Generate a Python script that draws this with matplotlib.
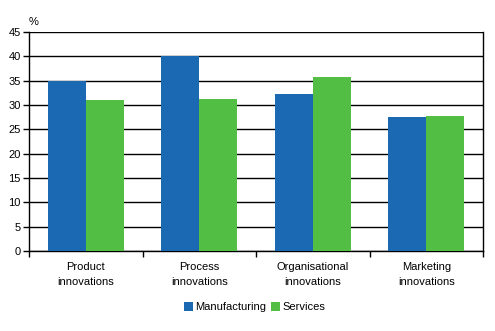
import matplotlib.pyplot as plt
import numpy as np

categories = ['Product\ninnovations', 'Process\ninnovations',
              'Organisational\ninnovations', 'Marketing\ninnovations']
manufacturing = [35.0, 40.0, 32.3, 27.5]
services = [31.0, 31.2, 35.7, 27.7]

plt.rcParams['font.family'] = ['Liberation Sans', 'DejaVu Sans']
plt.rcParams['font.size'] = 8

fig = plt.figure(figsize=(4.95, 3.31), dpi=100)
ax = fig.add_axes([29/495, 80/331, 454/495, 219/331])

x = np.arange(len(categories))
w = 0.335
ax.bar(x - w/2, manufacturing, w, color='#1a69b2', label='Manufacturing', zorder=3)
ax.bar(x + w/2, services, w, color='#52bf44', label='Services', zorder=3)

ax.set_xlim(-0.5, 3.5)
ax.set_ylim(0, 45)
ax.set_yticks(range(0, 46, 5))
ax.yaxis.grid(True, color='black', linewidth=1.0, zorder=1)

# category labels sit between boundary ticks
ax.set_xticks(np.arange(-0.5, 4.0, 1.0))
ax.set_xticklabels([])
ax.set_xticks(x, minor=True)
ax.set_xticklabels(categories, minor=True, linespacing=1.55)
ax.tick_params(axis='x', which='minor', length=0, pad=8)
ax.tick_params(axis='x', which='major', length=4, width=1, direction='out')
ax.tick_params(axis='y', length=4, width=1, pad=2)

for s in ['left', 'bottom', 'right']:
    ax.spines[s].set_linewidth(1.0)
ax.spines['top'].set_visible(False)

ax.text(0.0, 1.025, '%', transform=ax.transAxes, ha='left', va='bottom')

ax.legend(loc='upper center', bbox_to_anchor=(0.497, -0.188), ncol=2, frameon=False,
          handlelength=0.8, handleheight=0.8, handletextpad=0.2, columnspacing=0.5)

fig.savefig('out.png', dpi=100)
